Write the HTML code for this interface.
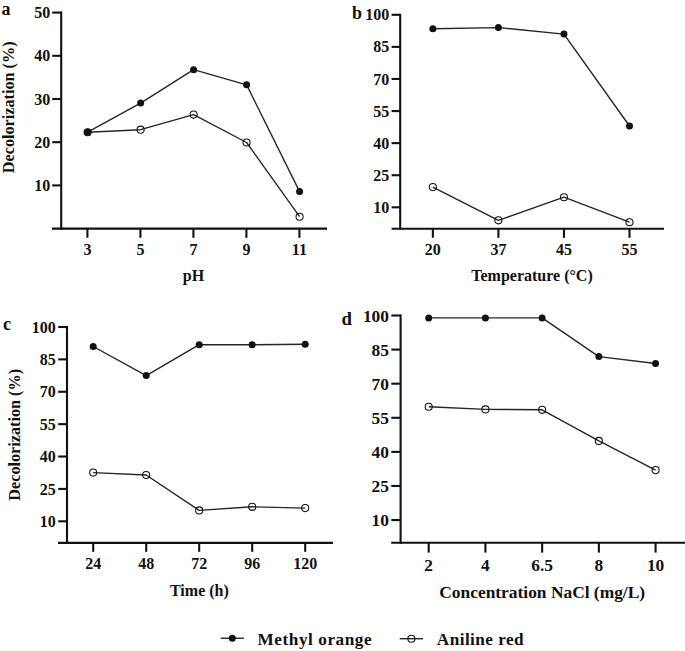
<!DOCTYPE html>
<html><head><meta charset="utf-8"><style>
html,body{margin:0;padding:0;background:#fff;}
svg{display:block;}
text{font-family:'Liberation Serif',serif;font-weight:bold;fill:#111;}
</style></head><body>
<svg width="685" height="651" viewBox="0 0 685 651">
<rect width="685" height="651" fill="#fff"/>
<line x1="61.2" y1="11.35" x2="61.2" y2="229.65" stroke="#111" stroke-width="2.1"/>
<line x1="52.2" y1="185.4" x2="61.2" y2="185.4" stroke="#111" stroke-width="2.1"/>
<text x="50.2" y="191" font-size="16" text-anchor="end" >10</text>
<line x1="52.2" y1="142.2" x2="61.2" y2="142.2" stroke="#111" stroke-width="2.1"/>
<text x="50.2" y="147.8" font-size="16" text-anchor="end" >20</text>
<line x1="52.2" y1="99" x2="61.2" y2="99" stroke="#111" stroke-width="2.1"/>
<text x="50.2" y="104.6" font-size="16" text-anchor="end" >30</text>
<line x1="52.2" y1="55.8" x2="61.2" y2="55.8" stroke="#111" stroke-width="2.1"/>
<text x="50.2" y="61.4" font-size="16" text-anchor="end" >40</text>
<line x1="52.2" y1="12.6" x2="61.2" y2="12.6" stroke="#111" stroke-width="2.1"/>
<text x="50.2" y="18.2" font-size="16" text-anchor="end" >50</text>
<line x1="52" y1="228.6" x2="327" y2="228.6" stroke="#111" stroke-width="2.1"/>
<line x1="87.4" y1="228.6" x2="87.4" y2="237.8" stroke="#111" stroke-width="2.1"/>
<text x="87.4" y="255.2" font-size="16" text-anchor="middle" >3</text>
<line x1="140.4" y1="228.6" x2="140.4" y2="237.8" stroke="#111" stroke-width="2.1"/>
<text x="140.4" y="255.2" font-size="16" text-anchor="middle" >5</text>
<line x1="193.4" y1="228.6" x2="193.4" y2="237.8" stroke="#111" stroke-width="2.1"/>
<text x="193.4" y="255.2" font-size="16" text-anchor="middle" >7</text>
<line x1="246.4" y1="228.6" x2="246.4" y2="237.8" stroke="#111" stroke-width="2.1"/>
<text x="246.4" y="255.2" font-size="16" text-anchor="middle" >9</text>
<line x1="299.4" y1="228.6" x2="299.4" y2="237.8" stroke="#111" stroke-width="2.1"/>
<text x="299.4" y="255.2" font-size="16" text-anchor="middle" >11</text>
<text x="193.5" y="281.1" font-size="16" text-anchor="middle" >pH</text>
<text x="13.8" y="107.3" font-size="16.2" text-anchor="middle" transform="rotate(-90 13.8 107.3)">Decolorization (%)</text>
<text x="1.5" y="15" font-size="18" text-anchor="start" >a</text>
<polyline points="87.6,132.2 140.6,129.7 193.6,114.6 246.6,142.5 299.6,216.7" fill="none" stroke="#262626" stroke-width="1.4" stroke-linejoin="round"/>
<polyline points="87.6,132.2 140.6,103.1 193.6,69.65 246.6,84.8 299.6,191.6" fill="none" stroke="#262626" stroke-width="1.4" stroke-linejoin="round"/>
<circle cx="87.6" cy="132.2" r="3.55" fill="none" stroke="#111" stroke-width="1.05"/>
<circle cx="140.6" cy="129.7" r="3.55" fill="none" stroke="#111" stroke-width="1.05"/>
<circle cx="193.6" cy="114.6" r="3.55" fill="none" stroke="#111" stroke-width="1.05"/>
<circle cx="246.6" cy="142.5" r="3.55" fill="none" stroke="#111" stroke-width="1.05"/>
<circle cx="299.6" cy="216.7" r="3.55" fill="none" stroke="#111" stroke-width="1.05"/>
<circle cx="87.6" cy="132.2" r="3.5" fill="#111"/>
<circle cx="140.6" cy="103.1" r="3.5" fill="#111"/>
<circle cx="193.6" cy="69.65" r="3.5" fill="#111"/>
<circle cx="246.6" cy="84.8" r="3.5" fill="#111"/>
<circle cx="299.6" cy="191.6" r="3.5" fill="#111"/>
<line x1="400.2" y1="13.75" x2="400.2" y2="229.75" stroke="#111" stroke-width="2.1"/>
<line x1="391.6" y1="207.31" x2="400.2" y2="207.31" stroke="#111" stroke-width="2.1"/>
<text x="389.2" y="212.91" font-size="16" text-anchor="end" >10</text>
<line x1="391.6" y1="175.22" x2="400.2" y2="175.22" stroke="#111" stroke-width="2.1"/>
<text x="389.2" y="180.82" font-size="16" text-anchor="end" >25</text>
<line x1="391.6" y1="143.14" x2="400.2" y2="143.14" stroke="#111" stroke-width="2.1"/>
<text x="389.2" y="148.74" font-size="16" text-anchor="end" >40</text>
<line x1="391.6" y1="111.06" x2="400.2" y2="111.06" stroke="#111" stroke-width="2.1"/>
<text x="389.2" y="116.66" font-size="16" text-anchor="end" >55</text>
<line x1="391.6" y1="78.97" x2="400.2" y2="78.97" stroke="#111" stroke-width="2.1"/>
<text x="389.2" y="84.57" font-size="16" text-anchor="end" >70</text>
<line x1="391.6" y1="46.89" x2="400.2" y2="46.89" stroke="#111" stroke-width="2.1"/>
<text x="389.2" y="52.49" font-size="16" text-anchor="end" >85</text>
<line x1="391.6" y1="14.8" x2="400.2" y2="14.8" stroke="#111" stroke-width="2.1"/>
<text x="389.2" y="20.4" font-size="16" text-anchor="end" >100</text>
<line x1="391.6" y1="228.7" x2="664" y2="228.7" stroke="#111" stroke-width="2.1"/>
<line x1="432.85" y1="228.7" x2="432.85" y2="237.8" stroke="#111" stroke-width="2.1"/>
<text x="432.85" y="255.2" font-size="16" text-anchor="middle" >20</text>
<line x1="498.4" y1="228.7" x2="498.4" y2="237.8" stroke="#111" stroke-width="2.1"/>
<text x="498.4" y="255.2" font-size="16" text-anchor="middle" >37</text>
<line x1="563.95" y1="228.7" x2="563.95" y2="237.8" stroke="#111" stroke-width="2.1"/>
<text x="563.95" y="255.2" font-size="16" text-anchor="middle" >45</text>
<line x1="629.5" y1="228.7" x2="629.5" y2="237.8" stroke="#111" stroke-width="2.1"/>
<text x="629.5" y="255.2" font-size="16" text-anchor="middle" >55</text>
<text x="532" y="280.9" font-size="16" text-anchor="middle" >Temperature (°C)</text>
<text x="352" y="18.9" font-size="18" text-anchor="start" >b</text>
<polyline points="432.85,187.1 498.4,220.3 563.95,197.2 629.5,222.2" fill="none" stroke="#262626" stroke-width="1.4" stroke-linejoin="round"/>
<polyline points="432.85,28.75 498.4,27.6 563.95,34.1 629.5,126" fill="none" stroke="#262626" stroke-width="1.4" stroke-linejoin="round"/>
<circle cx="432.85" cy="187.1" r="3.55" fill="none" stroke="#111" stroke-width="1.05"/>
<circle cx="498.4" cy="220.3" r="3.55" fill="none" stroke="#111" stroke-width="1.05"/>
<circle cx="563.95" cy="197.2" r="3.55" fill="none" stroke="#111" stroke-width="1.05"/>
<circle cx="629.5" cy="222.2" r="3.55" fill="none" stroke="#111" stroke-width="1.05"/>
<circle cx="432.85" cy="28.75" r="3.5" fill="#111"/>
<circle cx="498.4" cy="27.6" r="3.5" fill="#111"/>
<circle cx="563.95" cy="34.1" r="3.5" fill="#111"/>
<circle cx="629.5" cy="126" r="3.5" fill="#111"/>
<line x1="67" y1="325.95" x2="67" y2="543.95" stroke="#111" stroke-width="2.1"/>
<line x1="58.2" y1="521.31" x2="67" y2="521.31" stroke="#111" stroke-width="2.1"/>
<text x="55.8" y="526.91" font-size="16" text-anchor="end" >10</text>
<line x1="58.2" y1="488.92" x2="67" y2="488.92" stroke="#111" stroke-width="2.1"/>
<text x="55.8" y="494.52" font-size="16" text-anchor="end" >25</text>
<line x1="58.2" y1="456.54" x2="67" y2="456.54" stroke="#111" stroke-width="2.1"/>
<text x="55.8" y="462.14" font-size="16" text-anchor="end" >40</text>
<line x1="58.2" y1="424.15" x2="67" y2="424.15" stroke="#111" stroke-width="2.1"/>
<text x="55.8" y="429.75" font-size="16" text-anchor="end" >55</text>
<line x1="58.2" y1="391.77" x2="67" y2="391.77" stroke="#111" stroke-width="2.1"/>
<text x="55.8" y="397.37" font-size="16" text-anchor="end" >70</text>
<line x1="58.2" y1="359.38" x2="67" y2="359.38" stroke="#111" stroke-width="2.1"/>
<text x="55.8" y="364.99" font-size="16" text-anchor="end" >85</text>
<line x1="58.2" y1="327" x2="67" y2="327" stroke="#111" stroke-width="2.1"/>
<text x="55.8" y="332.6" font-size="16" text-anchor="end" >100</text>
<line x1="58" y1="542.9" x2="333" y2="542.9" stroke="#111" stroke-width="2.1"/>
<line x1="93.2" y1="542.9" x2="93.2" y2="551.8" stroke="#111" stroke-width="2.1"/>
<text x="93.2" y="569" font-size="16" text-anchor="middle" >24</text>
<line x1="146.2" y1="542.9" x2="146.2" y2="551.8" stroke="#111" stroke-width="2.1"/>
<text x="146.2" y="569" font-size="16" text-anchor="middle" >48</text>
<line x1="199.2" y1="542.9" x2="199.2" y2="551.8" stroke="#111" stroke-width="2.1"/>
<text x="199.2" y="569" font-size="16" text-anchor="middle" >72</text>
<line x1="252.2" y1="542.9" x2="252.2" y2="551.8" stroke="#111" stroke-width="2.1"/>
<text x="252.2" y="569" font-size="16" text-anchor="middle" >96</text>
<line x1="305.2" y1="542.9" x2="305.2" y2="551.8" stroke="#111" stroke-width="2.1"/>
<text x="305.2" y="569" font-size="16" text-anchor="middle" >120</text>
<text x="199.4" y="595.8" font-size="16" text-anchor="middle" >Time (h)</text>
<text x="20" y="434.8" font-size="16.2" text-anchor="middle" transform="rotate(-90 20.0 434.8)">Decolorization (%)</text>
<text x="3" y="330.2" font-size="18" text-anchor="start" >c</text>
<polyline points="93.2,472.6 146.2,475 199.2,510.4 252.2,506.8 305.2,508.1" fill="none" stroke="#262626" stroke-width="1.4" stroke-linejoin="round"/>
<polyline points="93.2,346.5 146.2,375.6 199.2,344.7 252.2,344.7 305.2,344.3" fill="none" stroke="#262626" stroke-width="1.4" stroke-linejoin="round"/>
<circle cx="93.2" cy="472.6" r="3.55" fill="none" stroke="#111" stroke-width="1.05"/>
<circle cx="146.2" cy="475" r="3.55" fill="none" stroke="#111" stroke-width="1.05"/>
<circle cx="199.2" cy="510.4" r="3.55" fill="none" stroke="#111" stroke-width="1.05"/>
<circle cx="252.2" cy="506.8" r="3.55" fill="none" stroke="#111" stroke-width="1.05"/>
<circle cx="305.2" cy="508.1" r="3.55" fill="none" stroke="#111" stroke-width="1.05"/>
<circle cx="93.2" cy="346.5" r="3.5" fill="#111"/>
<circle cx="146.2" cy="375.6" r="3.5" fill="#111"/>
<circle cx="199.2" cy="344.7" r="3.5" fill="#111"/>
<circle cx="252.2" cy="344.7" r="3.5" fill="#111"/>
<circle cx="305.2" cy="344.3" r="3.5" fill="#111"/>
<line x1="400.6" y1="314.45" x2="400.6" y2="543.85" stroke="#111" stroke-width="2.1"/>
<line x1="391.3" y1="520.07" x2="400.6" y2="520.07" stroke="#111" stroke-width="2.1"/>
<text x="389" y="526.47" font-size="17.4" text-anchor="end" >10</text>
<line x1="391.3" y1="485.97" x2="400.6" y2="485.97" stroke="#111" stroke-width="2.1"/>
<text x="389" y="492.37" font-size="17.4" text-anchor="end" >25</text>
<line x1="391.3" y1="451.88" x2="400.6" y2="451.88" stroke="#111" stroke-width="2.1"/>
<text x="389" y="458.28" font-size="17.4" text-anchor="end" >40</text>
<line x1="391.3" y1="417.78" x2="400.6" y2="417.78" stroke="#111" stroke-width="2.1"/>
<text x="389" y="424.18" font-size="17.4" text-anchor="end" >55</text>
<line x1="391.3" y1="383.69" x2="400.6" y2="383.69" stroke="#111" stroke-width="2.1"/>
<text x="389" y="390.09" font-size="17.4" text-anchor="end" >70</text>
<line x1="391.3" y1="349.59" x2="400.6" y2="349.59" stroke="#111" stroke-width="2.1"/>
<text x="389" y="355.99" font-size="17.4" text-anchor="end" >85</text>
<line x1="391.3" y1="315.5" x2="400.6" y2="315.5" stroke="#111" stroke-width="2.1"/>
<text x="389" y="321.9" font-size="17.4" text-anchor="end" >100</text>
<line x1="391.2" y1="542.8" x2="685" y2="542.8" stroke="#111" stroke-width="2.1"/>
<line x1="428.7" y1="542.8" x2="428.7" y2="552.6" stroke="#111" stroke-width="2.1"/>
<text x="428.7" y="570.6" font-size="17.4" text-anchor="middle" >2</text>
<line x1="485.42" y1="542.8" x2="485.42" y2="552.6" stroke="#111" stroke-width="2.1"/>
<text x="485.42" y="570.6" font-size="17.4" text-anchor="middle" >4</text>
<line x1="542.14" y1="542.8" x2="542.14" y2="552.6" stroke="#111" stroke-width="2.1"/>
<text x="542.14" y="570.6" font-size="17.4" text-anchor="middle" >6.5</text>
<line x1="598.86" y1="542.8" x2="598.86" y2="552.6" stroke="#111" stroke-width="2.1"/>
<text x="598.86" y="570.6" font-size="17.4" text-anchor="middle" >8</text>
<line x1="655.58" y1="542.8" x2="655.58" y2="552.6" stroke="#111" stroke-width="2.1"/>
<text x="655.58" y="570.6" font-size="17.4" text-anchor="middle" >10</text>
<text x="542.2" y="598.3" font-size="17.4" text-anchor="middle" >Concentration NaCl (mg/L)</text>
<text x="341.5" y="325.2" font-size="18.8" text-anchor="start" >d</text>
<polyline points="428.7,406.7 485.42,409.4 542.14,409.8 598.86,440.9 655.58,470.1" fill="none" stroke="#262626" stroke-width="1.4" stroke-linejoin="round"/>
<polyline points="428.7,317.9 485.42,317.9 542.14,317.9 598.86,356.6 655.58,363.5" fill="none" stroke="#262626" stroke-width="1.4" stroke-linejoin="round"/>
<circle cx="428.7" cy="406.7" r="3.55" fill="none" stroke="#111" stroke-width="1.05"/>
<circle cx="485.42" cy="409.4" r="3.55" fill="none" stroke="#111" stroke-width="1.05"/>
<circle cx="542.14" cy="409.8" r="3.55" fill="none" stroke="#111" stroke-width="1.05"/>
<circle cx="598.86" cy="440.9" r="3.55" fill="none" stroke="#111" stroke-width="1.05"/>
<circle cx="655.58" cy="470.1" r="3.55" fill="none" stroke="#111" stroke-width="1.05"/>
<circle cx="428.7" cy="317.9" r="3.5" fill="#111"/>
<circle cx="485.42" cy="317.9" r="3.5" fill="#111"/>
<circle cx="542.14" cy="317.9" r="3.5" fill="#111"/>
<circle cx="598.86" cy="356.6" r="3.5" fill="#111"/>
<circle cx="655.58" cy="363.5" r="3.5" fill="#111"/>
<line x1="220.7" y1="638.2" x2="243.9" y2="638.2" stroke="#262626" stroke-width="1.4"/>
<circle cx="232.3" cy="638.2" r="3.5" fill="#111"/>
<text x="257.6" y="644.8" font-size="17.2" text-anchor="start" letter-spacing="0.55">Methyl orange</text>
<line x1="399.7" y1="638.7" x2="423" y2="638.7" stroke="#262626" stroke-width="1.4"/>
<circle cx="411.4" cy="638.7" r="3.55" fill="none" stroke="#111" stroke-width="1.05"/>
<text x="436.8" y="644.8" font-size="17.2" text-anchor="start" letter-spacing="0.45">Aniline red</text>
</svg>
</body></html>
